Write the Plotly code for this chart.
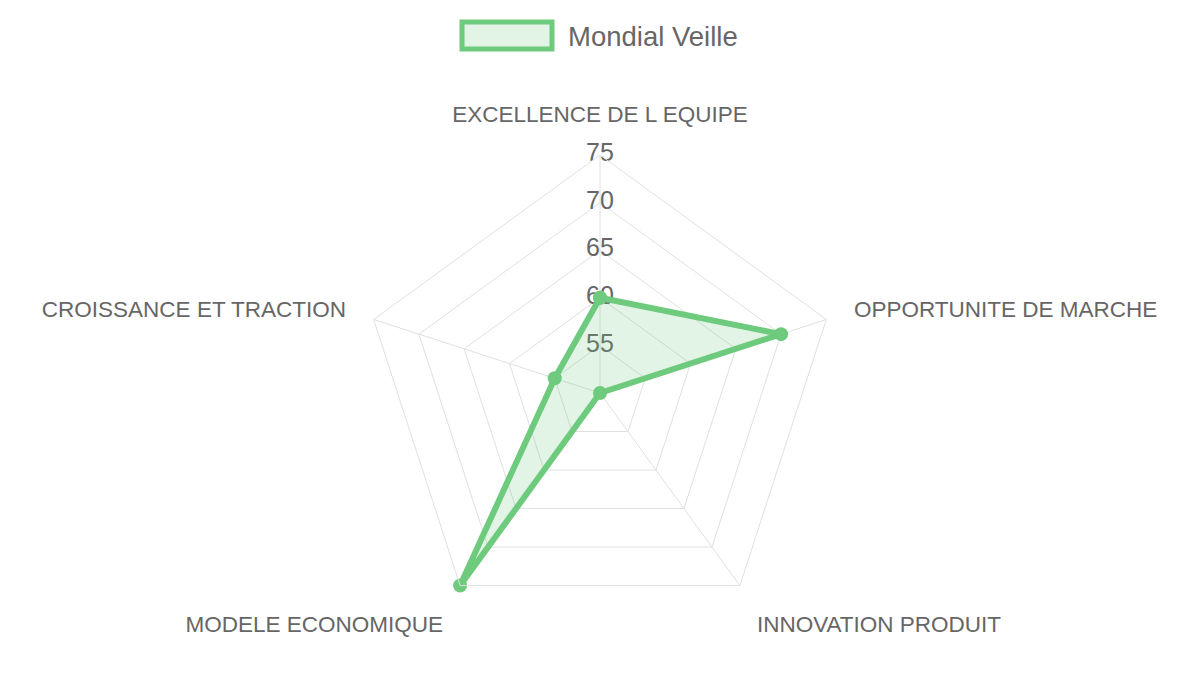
import plotly.graph_objects as go

categories = ["EXCELLENCE DE L EQUIPE", "OPPORTUNITE DE MARCHE", "INNOVATION PRODUIT",
              "MODELE ECONOMIQUE", "CROISSANCE ET TRACTION"]
values = [60, 70, 50, 75, 55]
series_name = "Mondial Veille"
radial_ticks = [55, 60, 65, 70, 75]
radial_range = [49.999, 75]

GREEN = "rgb(110,202,125)"
FILL = "rgba(110,202,125,0.2)"
GRID = "#e0e0e0"
TXT = "#666666"
FONT = "Liberation Sans, Arial, sans-serif"

fig = go.Figure()

# radial tick labels centred on the first spoke (drawn under the data)
fig.add_trace(go.Scatterpolar(
    r=radial_ticks,
    theta=[categories[0]] * len(radial_ticks),
    mode="text",
    text=[str(t) for t in radial_ticks],
    textposition="middle center",
    textfont=dict(size=25, color=TXT, family=FONT),
    showlegend=False,
    hoverinfo="skip",
))

fig.add_trace(go.Scatterpolar(
    r=values + values[:1],
    theta=categories + categories[:1],
    mode="lines+markers",
    fill="toself",
    fillcolor=FILL,
    line=dict(color=GREEN, width=6),
    marker=dict(color=GREEN, size=14),
    cliponaxis=False,
    name=series_name,
    showlegend=False,
))

fig.update_layout(
    width=1200, height=675,
    margin=dict(l=0, r=0, t=0, b=0),
    paper_bgcolor="white",
    font=dict(family=FONT, color=TXT),
    polar=dict(
        domain=dict(x=[362 / 1200, 838 / 1200], y=[1 - 631 / 675, 1 - 155 / 675]),
        bgcolor="white",
        gridshape="linear",
        radialaxis=dict(
            range=radial_range, tickvals=radial_ticks, showticklabels=False,
            showline=False, gridcolor=GRID, gridwidth=1, ticks="", angle=90,
        ),
        angularaxis=dict(
            direction="clockwise", rotation=90,
            showline=True, linecolor=GRID, linewidth=1,
            gridcolor=GRID, gridwidth=1,
            ticks="outside", ticklen=24, tickcolor="rgba(0,0,0,0)",
            tickfont=dict(size=22.5, color=TXT, family=FONT),
        ),
    ),
    shapes=[dict(
        type="rect", xref="paper", yref="paper",
        x0=462 / 1200, x1=552 / 1200, y0=1 - 49 / 675, y1=1 - 22 / 675,
        line=dict(color=GREEN, width=5), fillcolor=FILL,
    )],
    annotations=[dict(
        text=series_name, xref="paper", yref="paper",
        x=566 / 1200, y=1 - 36 / 675, xanchor="left", yanchor="middle",
        showarrow=False, font=dict(size=27.5, color=TXT, family=FONT),
    )],
)

fig.write_html("out.html")
